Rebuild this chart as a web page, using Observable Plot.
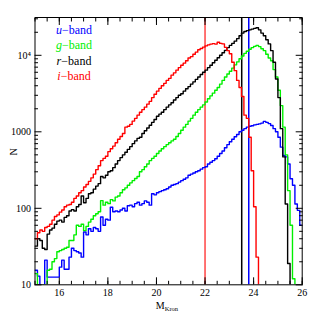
<!DOCTYPE html>
<html><head><meta charset="utf-8">
<script src="https://cdn.jsdelivr.net/npm/d3@7"></script>
<script src="https://cdn.jsdelivr.net/npm/@observablehq/plot@0.6"></script>
<style>body{margin:0;background:#fff}</style>
</head><body><div id="chart"></div>
<script>
// Histogram bins: 0.1 mag wide, left edges from 15.0 to 25.9
const binStart = 15.0, binWidth = 0.1, binCount = 110;

const uCounts = [
15.5,13,10,10,21,12.6,12.6,12.6,12.6,12.6,
17,21,16,16,23,30,28,27,26,23,
49,45,54,50,56,54,50,77,60,72,
70,103,90,92,90,95,100,92,108,110,
105,115,120,110,115,125,120,110,155,150,
160,165,170,175,180,190,200,205,210,220,
230,240,250,270,280,290,300,310,325,340,
350,380,400,420,445,480,520,560,620,680,
740,800,860,920,1000,1050,1100,1150,1180,1200,
1230,1250,1270,1300,1370,1330,1280,1210,1100,1000,
850,630,490,470,380,243,200,114,94,60
];
const gCounts = [
14,10,10,10,10,15.5,16,20,22,27,
28,29,30,31,38,38,45,60,58,62,
51,58,66,72,80,85,90,126,110,120,
115,130,125,140,145,160,175,185,200,215,
230,245,260,300,320,350,380,420,450,480,
520,560,600,640,680,720,760,800,870,950,
1050,1150,1250,1380,1500,1650,1800,1950,2100,2250,
2450,2700,2950,3200,3500,3800,4200,4700,5200,5700,
6200,6800,7500,8200,9000,9800,10600,11300,12000,12600,
13100,13500,13000,12200,11500,10300,9200,8500,6500,5200,
3500,2200,1150,500,170,60,12,1,1,1
];
const rCounts = [
32,40,38,30,29,46,52,55,62,68,
70,66,76,80,92,96,92,105,112,145,
118,135,155,160,178,195,210,260,250,270,
300,310,340,380,420,460,500,540,590,640,
700,760,820,850,950,1030,1120,1220,1330,1450,
1600,1700,1800,1950,2100,2250,2400,2600,2800,3000,
3150,3400,3650,3900,4200,4500,4850,5200,5600,6000,
6400,6900,7400,8000,8600,9300,10000,10800,11600,12600,
13500,14300,15300,16500,18000,19500,20500,21000,21500,22000,
22500,22900,21500,19500,18000,16000,14100,11500,8100,4900,
2800,1100,470,114,19,1,1,1,1,1
];
const iCounts = [
40,48,52,50,56,58,62,70,78,82,
89,95,105,110,112,120,135,145,160,170,
190,205,225,250,280,320,360,420,450,480,
550,600,650,720,800,870,950,1150,1180,1250,
1380,1500,1650,1800,1950,2100,2300,2500,2800,3100,
3400,3700,4000,4300,4700,5000,5500,5900,6400,6900,
7400,7900,8500,9200,9600,10300,11000,11800,12300,12800,
13300,13700,14000,14200,14000,14800,14300,14100,12700,11500,
10500,8100,6300,4700,3800,2900,1650,1500,850,310,
105,23,1,1,1,1,1,1,1,1,
1,1,1,1,1,1,1,1,1,1
];

const bands = ["u", "g", "r", "i"];
const bandColors = ["#0000ff", "#00f000", "#000000", "#ff0000"];
const bandCounts = [uCounts, gCounts, rCounts, iCounts];
const limitMags = [23.8, 23.51, 22.0];
const limitColors = ["#0000ff", "#000000", "#ff4444"];

const xMajor = [16, 18, 20, 22, 24, 26];
const xMinor = d3.range(30, 53).map(d => d / 2);
const yMajor = [10, 100, 1000, 10000];
const yMajorLabels = ["10", "100", "1000", "10⁴"];
const yMinor = [20,30,40,50,60,70,80,90,200,300,400,500,600,700,800,900,2000,3000,4000,5000,6000,7000,8000,9000,20000,30000];

const edges = d3.range(binCount + 1).map(i => +(binStart + i * binWidth).toFixed(1));
const rows = [];
bands.forEach((b, k) => {
  const c = bandCounts[k];
  c.forEach((v, i) => rows.push({band: b, m: edges[i], n: v}));
  rows.push({band: b, m: edges[binCount], n: c[c.length - 1]});
});
const limits = limitMags.map((m, k) => ({m, color: limitColors[k]}));

const yLab = new Map(yMajor.map((v, i) => [v, yMajorLabels[i]]));
const none = () => "";

const chart = Plot.plot({
  width: 319, height: 319,
  marginLeft: 34.5, marginRight: 17.3, marginTop: 17, marginBottom: 34.7,
  x: {domain: [15, 26]},
  y: {type: "log", domain: [10, 31200]},
  style: {fontFamily: "Liberation Serif", fontSize: "10px", color: "black", background: "white"},
  marks: [
    Plot.ruleX(limits, {x: "m", stroke: "color", strokeWidth: 1.5}),
    Plot.line(rows, {x: "m", y: "n", z: "band", stroke: d => bandColors[bands.indexOf(d.band)], curve: "step-after", strokeWidth: 1.4, clip: true}),
    Plot.axisX({anchor: "bottom", ticks: xMajor, tickSize: -7, tickFormat: none, label: null}),
    Plot.axisX({anchor: "bottom", ticks: xMinor, tickSize: -3.5, tickFormat: none, label: null}),
    Plot.axisX({anchor: "top", ticks: xMajor, tickSize: -7, tickFormat: none, label: null}),
    Plot.axisX({anchor: "top", ticks: xMinor, tickSize: -3.5, tickFormat: none, label: null}),
    Plot.axisX({anchor: "bottom", ticks: xMajor, tickSize: 0, tickPadding: 4, tickFormat: d => String(d), label: null}),
    Plot.axisY({anchor: "left", ticks: yMajor, tickSize: -7, tickFormat: none, label: null}),
    Plot.axisY({anchor: "left", ticks: yMinor, tickSize: -3.5, tickFormat: none, label: null}),
    Plot.axisY({anchor: "right", ticks: yMajor, tickSize: -7, tickFormat: none, label: null}),
    Plot.axisY({anchor: "right", ticks: yMinor, tickSize: -3.5, tickFormat: none, label: null}),
    Plot.axisY({anchor: "left", ticks: yMajor, tickSize: 0, tickPadding: 4, tickFormat: d => yLab.get(d), label: null}),
    Plot.frame({stroke: "black", strokeWidth: 1})
  ]
});

const svg = d3.select(chart);
// axis titles
svg.append("text").attr("transform", "translate(17,152) rotate(-90)")
  .attr("text-anchor", "middle").attr("font-size", 10).attr("fill", "black").text("N");
const xt = svg.append("text").attr("x", 167).attr("y", 309).attr("text-anchor", "middle")
  .attr("font-size", 10).attr("fill", "black");
xt.append("tspan").text("M");
xt.append("tspan").attr("font-size", 6.5).attr("dy", 2).text("Kron");

// legend
bands.forEach((b, k) => {
  const t = svg.append("text").attr("x", 74).attr("y", 34 + k * 15.3)
    .attr("font-size", 12).attr("fill", bandColors[k]);
  t.append("tspan").attr("font-style", "italic").text(b);
  t.append("tspan").text("−band");
});

document.getElementById("chart").appendChild(chart);
</script>
</body></html>
